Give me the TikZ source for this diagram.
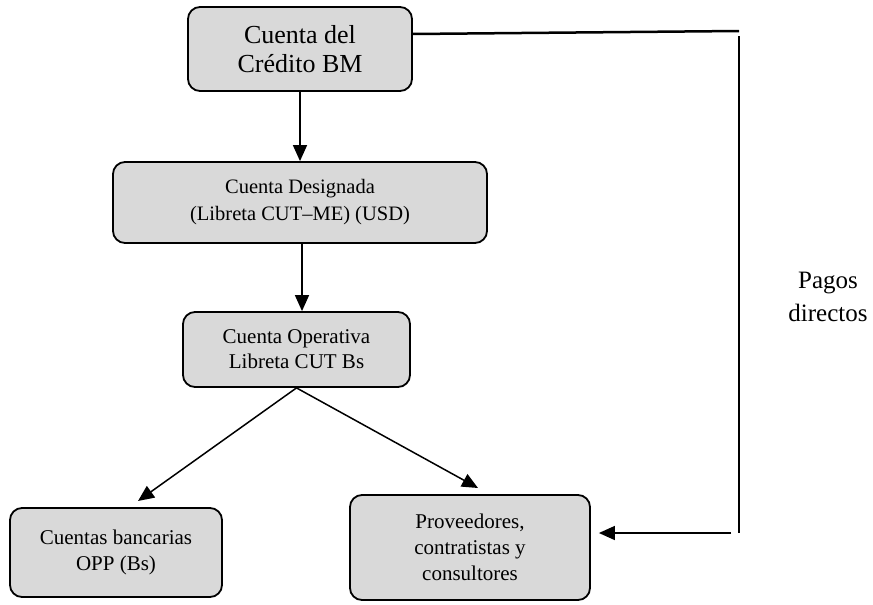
\documentclass[tikz,border=0pt]{standalone}
\usepackage{fontspec}
\setmainfont{Liberation Serif}
\usetikzlibrary{arrows.meta}
\definecolor{boxgray}{RGB}{217,217,217}
\begin{document}
\begin{tikzpicture}[x=1pt,y=-1pt,
  box/.style={draw=black, line width=1.8pt, fill=boxgray, rounded corners=12pt,
    align=center, inner sep=0pt, font=\fontsize{21}{26}\selectfont},
  bigbox/.style={box, font=\fontsize{26}{29}\selectfont},
  conn/.style={line width=1.5pt, draw=black},
  arr/.style={conn, -{Triangle[length=16pt,width=14pt]}},
  lbl/.style={align=center, font=\fontsize{25}{33}\selectfont}]
\useasboundingbox (0,0) rectangle (873,605);

\node[bigbox, minimum width=224pt, minimum height=84pt] (top) at (300,49) {Cuenta del\\Crédito BM};
\node[box, minimum width=374pt, minimum height=81pt, font=\fontsize{20.5}{27}\selectfont] (desig) at (300,202.5) {Cuenta Designada\\(Libreta CUT–ME) (USD)};
\node[box, minimum width=227pt, minimum height=75pt, font=\fontsize{21}{25}\selectfont] (oper) at (296.5,349.5) {Cuenta Operativa\\Libreta CUT Bs};
\node[box, minimum width=212pt, minimum height=89pt] (banc) at (116,552.5) {Cuentas bancarias\\OPP (Bs)};
\node[box, minimum width=240pt, minimum height=105pt] (prov) at (470,547.5) {Proveedores,\\contratistas y\\consultores};
\node[lbl] (pagos) at (828,297) {Pagos\\directos};

\coordinate (tipL) at (138,501);
\coordinate (tipR) at (478,488);
\coordinate (r1) at (739,31);
\coordinate (r2) at (739,36);
\coordinate (r3) at (739,533);
\coordinate (r4) at (731,533);

\draw[arr] (top.south) -- (desig.north);
\draw[arr] ([xshift=2pt]desig.south) -- ([xshift=5.5pt]oper.north);
\draw[arr] (oper.south) -- (tipL);
\draw[arr] (oper.south) -- (tipR);
\draw[conn, line width=2.5pt] ([yshift=15pt]top.east) -- (r1);
\draw[conn, line width=2pt] (r2) -- (r3);
\draw[arr, shorten >=8pt] (r4) -- (prov.east |- r4);
\end{tikzpicture}
\end{document}
